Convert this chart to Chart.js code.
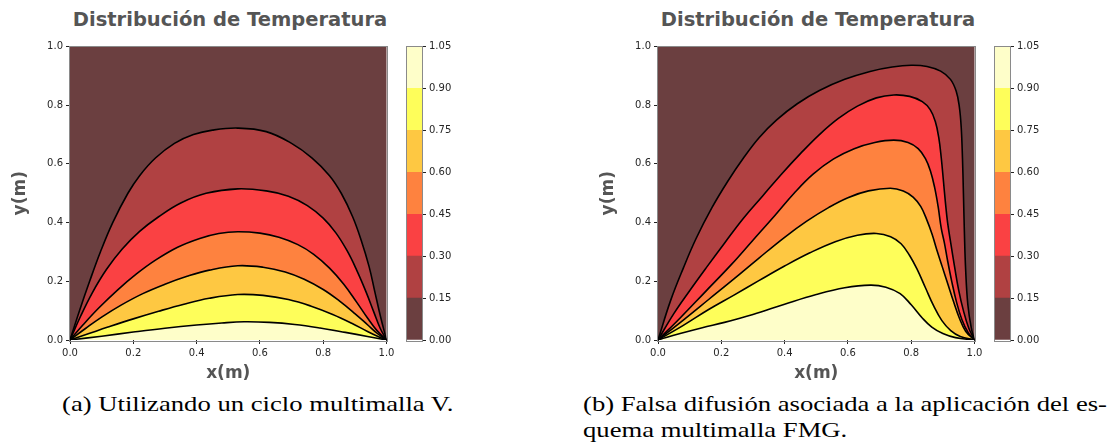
<!DOCTYPE html>
<html>
<head>
<meta charset="utf-8">
<script src="https://cdn.jsdelivr.net/npm/chart.js@4.4.0/dist/chart.umd.min.js"></script>
<style>
  html, body { margin: 0; padding: 0; background: #fff; }
  body { width: 1115px; height: 448px; position: relative; overflow: hidden; }
  canvas { position: absolute; top: 0; display: block; }
  .ttl { position: absolute; top: 10px; font: bold 19.5px "DejaVu Sans"; color: #555;
         white-space: nowrap; line-height: 1; transform: translateX(-50%); }
  .cap { position: absolute; font: 22px "Liberation Serif"; color: #000;
         white-space: nowrap; line-height: 1; transform-origin: 0 50%; }
</style>
</head>
<body>
<div class="ttl" style="left:230px">Distribución de Temperatura</div>
<div class="ttl" style="left:818px">Distribución de Temperatura</div>

<canvas id="plotA" width="400" height="390" style="left:0"></canvas>
<canvas id="barA" width="70" height="390" style="left:400px"></canvas>
<canvas id="plotB" width="400" height="390" style="left:587.5px"></canvas>
<canvas id="barB" width="70" height="390" style="left:987.5px"></canvas>

<div class="cap" id="capA" style="left:62px;top:393px">(a) Utilizando un ciclo multimalla V.</div>
<div class="cap" id="capB1" style="left:583px;top:393px">(b) Falsa difusión asociada a la aplicación del es-</div>
<div class="cap" id="capB2" style="left:583px;top:419px">quema multimalla FMG.</div>

<script>
// Contour levels of the temperature field and the colour bands between them
const contourLevels = [0.15, 0.30, 0.45, 0.60, 0.75, 0.90];
const barLevels = [0.00, 0.15, 0.30, 0.45, 0.60, 0.75, 0.90, 1.05];
const bandColors = ['#6b3f40', '#b04142', '#fa4143', '#fe823f', '#fec842', '#fefe5a', '#fefec9'];
const axisTicks = [0.0, 0.2, 0.4, 0.6, 0.8, 1.0];

// (a) V-cycle multigrid: isotherms as [x, y] points, from (0,0) to (1,0)
const vCycle015 = [[0,0],[0.03,0.1],[0.062,0.2],[0.096,0.3],[0.135,0.4],[0.183,0.5],[0.22,0.56],[0.27,0.62],[0.33,0.67],[0.39,0.70],[0.45,0.715],[0.53,0.722],[0.62,0.71],[0.70,0.67],[0.765,0.62],[0.82,0.56],[0.857,0.50],[0.893,0.42],[0.92,0.34],[0.945,0.25],[0.963,0.165],[0.981,0.08],[1,0]];
const vCycle030 = [[0,0],[0.033,0.08],[0.07,0.16],[0.115,0.24],[0.165,0.31],[0.22,0.37],[0.28,0.42],[0.35,0.467],[0.43,0.5],[0.53,0.515],[0.62,0.508],[0.69,0.49],[0.75,0.458],[0.80,0.415],[0.84,0.365],[0.875,0.305],[0.905,0.24],[0.935,0.165],[0.96,0.095],[0.98,0.04],[1,0]];
const vCycle045 = [[0,0],[0.04,0.05],[0.09,0.108],[0.15,0.17],[0.21,0.225],[0.27,0.272],[0.34,0.316],[0.41,0.346],[0.47,0.363],[0.53,0.369],[0.6,0.364],[0.66,0.35],[0.72,0.325],[0.77,0.292],[0.82,0.245],[0.865,0.19],[0.905,0.13],[0.94,0.075],[0.97,0.032],[1,0]];
const vCycle060 = [[0,0],[0.05,0.04],[0.1,0.078],[0.16,0.118],[0.23,0.158],[0.3,0.19],[0.37,0.217],[0.44,0.238],[0.53,0.253],[0.61,0.248],[0.68,0.232],[0.74,0.207],[0.8,0.172],[0.85,0.134],[0.9,0.09],[0.94,0.052],[0.97,0.023],[1,0]];
const vCycle075 = [[0,0],[0.06,0.022],[0.12,0.044],[0.2,0.072],[0.28,0.098],[0.36,0.122],[0.44,0.142],[0.53,0.155],[0.61,0.152],[0.69,0.138],[0.76,0.116],[0.83,0.087],[0.89,0.057],[0.94,0.029],[0.975,0.011],[1,0]];
const vCycle090 = [[0,0],[0.1,0.013],[0.2,0.027],[0.3,0.04],[0.4,0.051],[0.48,0.058],[0.55,0.062],[0.63,0.06],[0.71,0.053],[0.79,0.041],[0.87,0.026],[0.94,0.012],[1,0]];

// (b) FMG scheme: isotherms as [x, y] points, from (0,0) to (1,0)
const fmg015 = [[0,0],[0.04,0.135],[0.08,0.245],[0.12,0.345],[0.17,0.45],[0.22,0.54],[0.27,0.62],[0.32,0.69],[0.375,0.75],[0.44,0.805],[0.51,0.85],[0.59,0.888],[0.67,0.915],[0.74,0.93],[0.8,0.936],[0.85,0.932],[0.893,0.916],[0.924,0.888],[0.942,0.848],[0.952,0.795],[0.958,0.725],[0.962,0.62],[0.965,0.5],[0.968,0.37],[0.972,0.24],[0.979,0.12],[0.99,0.04],[1,0]];
const fmg030 = [[0,0],[0.05,0.09],[0.1,0.168],[0.155,0.25],[0.21,0.33],[0.27,0.415],[0.33,0.49],[0.39,0.565],[0.45,0.635],[0.51,0.7],[0.57,0.755],[0.63,0.797],[0.69,0.825],[0.745,0.835],[0.795,0.83],[0.835,0.812],[0.86,0.785],[0.876,0.745],[0.887,0.69],[0.895,0.62],[0.902,0.54],[0.908,0.47],[0.915,0.4],[0.925,0.33],[0.937,0.25],[0.95,0.17],[0.965,0.1],[0.982,0.04],[1,0]];
const fmg045 = [[0,0],[0.07,0.075],[0.15,0.165],[0.23,0.255],[0.3,0.34],[0.37,0.425],[0.43,0.5],[0.49,0.565],[0.555,0.617],[0.62,0.652],[0.685,0.673],[0.745,0.681],[0.79,0.673],[0.822,0.652],[0.845,0.618],[0.861,0.575],[0.874,0.52],[0.885,0.455],[0.895,0.38],[0.905,0.33],[0.915,0.27],[0.928,0.2],[0.943,0.13],[0.96,0.07],[0.98,0.025],[1,0]];
const fmg060 = [[0,0],[0.08,0.068],[0.16,0.138],[0.24,0.208],[0.32,0.28],[0.4,0.35],[0.47,0.405],[0.54,0.452],[0.6,0.485],[0.665,0.508],[0.734,0.517],[0.775,0.508],[0.806,0.487],[0.83,0.455],[0.849,0.41],[0.866,0.36],[0.88,0.31],[0.898,0.25],[0.916,0.19],[0.934,0.13],[0.952,0.075],[0.972,0.03],[1,0]];
const fmg075 = [[0,0],[0.08,0.05],[0.16,0.104],[0.24,0.153],[0.32,0.203],[0.4,0.252],[0.48,0.297],[0.56,0.335],[0.63,0.357],[0.69,0.363],[0.735,0.352],[0.768,0.328],[0.795,0.288],[0.82,0.238],[0.845,0.178],[0.871,0.116],[0.897,0.066],[0.925,0.032],[0.955,0.012],[1,0]];
const fmg090 = [[0,0],[0.07,0.022],[0.14,0.042],[0.21,0.06],[0.3,0.087],[0.4,0.122],[0.5,0.155],[0.59,0.178],[0.671,0.187],[0.72,0.18],[0.765,0.158],[0.8,0.12],[0.835,0.075],[0.865,0.044],[0.9,0.022],[0.94,0.008],[1,0]];

const tickFont = { family: 'DejaVu Sans', size: 10 };
const tickColor = '#262626';
const labelFont = { family: 'DejaVu Sans', size: 17, weight: 'bold' };
const labelColor = '#555';

// Paints the lowest band behind the isotherms and frames the plotting area
const frame = {
  id: 'frame',
  beforeDraw(chart, args, opts) {
    const a = chart.chartArea, ctx = chart.ctx;
    if (opts.fill) { ctx.save(); ctx.fillStyle = opts.fill; ctx.fillRect(a.left, a.top, a.right - a.left, a.bottom - a.top); ctx.restore(); }
  },
  afterDraw(chart) {
    const a = chart.chartArea, ctx = chart.ctx;
    ctx.save(); ctx.strokeStyle = '#8a8a8a'; ctx.lineWidth = 1;
    ctx.strokeRect(Math.round(a.left) - 0.5, Math.round(a.top) - 0.5, Math.round(a.right - a.left) + 1, Math.round(a.bottom - a.top) + 1);
    ctx.restore();
  }
};

function axis(title, isX) {
  return {
    type: 'linear', min: 0, max: 1,
    afterBuildTicks: s => { s.ticks = axisTicks.map(v => ({ value: v })); },
    afterFit: s => { if (isX) s.height = 50; else s.width = 70; },
    ticks: { font: tickFont, color: tickColor, padding: 3, maxRotation: 0, callback: v => Number(v).toFixed(1) },
    grid: { drawOnChartArea: false, drawTicks: true, tickLength: 4, color: '#222' },
    border: { display: false },
    title: { display: true, text: title, font: labelFont, color: labelColor,
             padding: isX ? { top: 0, bottom: 6 } : { top: 10, bottom: 0 } }
  };
}

function contourPlot(id, curves) {
  const datasets = contourLevels.map((lv, i) => ({
    label: lv.toFixed(2),
    data: curves[i].map(([x, y]) => ({ x, y })),
    borderColor: '#000',
    borderWidth: 1.6,
    backgroundColor: bandColors[i + 1],
    fill: 'origin',
    pointRadius: 0,
    tension: 0.4
  })).reverse();
  return new Chart(document.getElementById(id), {
    type: 'line',
    data: { datasets },
    plugins: [frame],
    options: {
      responsive: false, animation: false, events: [],
      layout: { padding: { left: 0, top: 46.5, right: 13.5, bottom: 0 } },
      plugins: { legend: { display: false }, tooltip: { enabled: false },
                 filler: { drawTime: 'beforeDatasetsDraw' }, frame: { fill: bandColors[0] } },
      scales: { x: axis('x(m)', true), y: axis('y(m)', false) }
    }
  });
}

function colorbar(id) {
  const datasets = bandColors.map((c, i) => ({
    data: [barLevels[i + 1] - barLevels[i]],
    backgroundColor: c, borderWidth: 0,
    barPercentage: 1, categoryPercentage: 1
  }));
  return new Chart(document.getElementById(id), {
    type: 'bar',
    data: { labels: [''], datasets },
    plugins: [frame],
    options: {
      responsive: false, animation: false, events: [],
      layout: { padding: { left: 7, top: 46.5, right: 0, bottom: 50 } },
      plugins: { legend: { display: false }, tooltip: { enabled: false }, frame: {} },
      scales: {
        x: { display: false, stacked: true },
        y: {
          stacked: true, position: 'right', min: 0, max: 1.05,
          afterBuildTicks: s => { s.ticks = barLevels.map(v => ({ value: v })); },
          afterFit: s => { s.width = 48; },
          ticks: { font: tickFont, color: tickColor, padding: 3, callback: v => Number(v).toFixed(2) },
          grid: { drawOnChartArea: false, tickLength: 4, color: '#222' },
          border: { display: false }
        }
      }
    }
  });
}

contourPlot('plotA', [vCycle015, vCycle030, vCycle045, vCycle060, vCycle075, vCycle090]);
contourPlot('plotB', [fmg015, fmg030, fmg045, fmg060, fmg075, fmg090]);
colorbar('barA');
colorbar('barB');

// Captions share one horizontal scale so that line (b) spans its column
const b1 = document.getElementById('capB1');
const k = 524 / b1.getBoundingClientRect().width;
['capA', 'capB1', 'capB2'].forEach(id => {
  document.getElementById(id).style.transform = 'scaleX(' + k.toFixed(4) + ')';
});
</script>
</body>
</html>
